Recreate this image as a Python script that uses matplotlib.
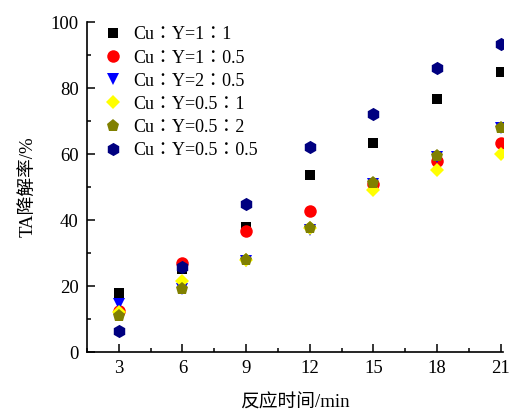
import numpy as np
import matplotlib
matplotlib.use('Agg')
import matplotlib.pyplot as plt
from matplotlib.ticker import MultipleLocator

plt.rcParams['font.family'] = ['Liberation Serif', 'Noto Sans CJK TC']
plt.rcParams['mathtext.fontset'] = 'stix'

# Daten
zeit = [3, 6, 9, 12, 15, 18, 21]   # 反应时间 / min
labels = ['Cu：Y=1：1', 'Cu：Y=1：0.5', 'Cu：Y=2：0.5',
          'Cu：Y=0.5：1', 'Cu：Y=0.5：2', 'Cu：Y=0.5：0.5']
y_1_1 = [17.9, 25.2, 37.8, 53.5, 63.2, 76.8, 85.0]
y_1_05 = [12.5, 27.0, 36.8, 42.8, 51.0, 58.0, 63.3]
y_2_05 = [14.5, 19.0, 27.5, 37.0, 51.0, 59.0, 67.8]
y_05_1 = [12.0, 21.5, 28.0, 37.5, 49.0, 55.3, 60.0]
y_05_2 = [10.8, 19.2, 27.8, 37.5, 51.2, 59.3, 67.8]
y_05_05 = [6.5, 25.7, 44.9, 62.0, 72.0, 86.1, 93.2]

serien = [y_1_1, y_1_05, y_2_05, y_05_1, y_05_2, y_05_05]
marker = ['s', 'o', 'v', 'D', 'p', 'h']
farben = ['black', 'red', 'blue', 'yellow', '#808000', '#000080']
groesse = [7.5, 9, 9, 7.5, 9.5, 9.5]

fig = plt.figure(figsize=(5.1, 4.12), dpi=100)
ax = fig.add_axes([0.1706, 0.1456, 0.8154, 0.801])

for i in range(len(serien)):
    ax.plot(zeit, serien[i], linestyle='none', marker=marker[i], color=farben[i],
            markersize=groesse[i], markeredgewidth=0, label=labels[i])

ax.set_xlim(1.5, 21.1)
ax.set_ylim(0, 100)
ax.xaxis.set_major_locator(MultipleLocator(3))
ax.xaxis.set_minor_locator(MultipleLocator(1.5))
ax.yaxis.set_major_locator(MultipleLocator(20))
ax.yaxis.set_minor_locator(MultipleLocator(10))
ax.tick_params(which='both', direction='in', width=1.1, labelsize=13.5)
ax.tick_params(which='major', length=6, pad=6)
ax.tick_params(which='minor', length=3)
ax.tick_params(top=False, right=False, which='both')

ax.spines['top'].set_visible(False)
ax.spines['right'].set_visible(False)
for s in ['left', 'bottom']:
    ax.spines[s].set_linewidth(1.2)

ax.set_xlabel('反应时间/min', fontsize=13.5, labelpad=12)
ax.set_ylabel('TA降解率/%', fontsize=13.5, labelpad=10)

ax.legend(loc='upper left', bbox_to_anchor=(0.0, 1.025), frameon=False,
          fontsize=13, handletextpad=0.35, labelspacing=0.34,
          borderaxespad=0.3, handlelength=1.5)

fig.savefig('out.png', dpi=100)
